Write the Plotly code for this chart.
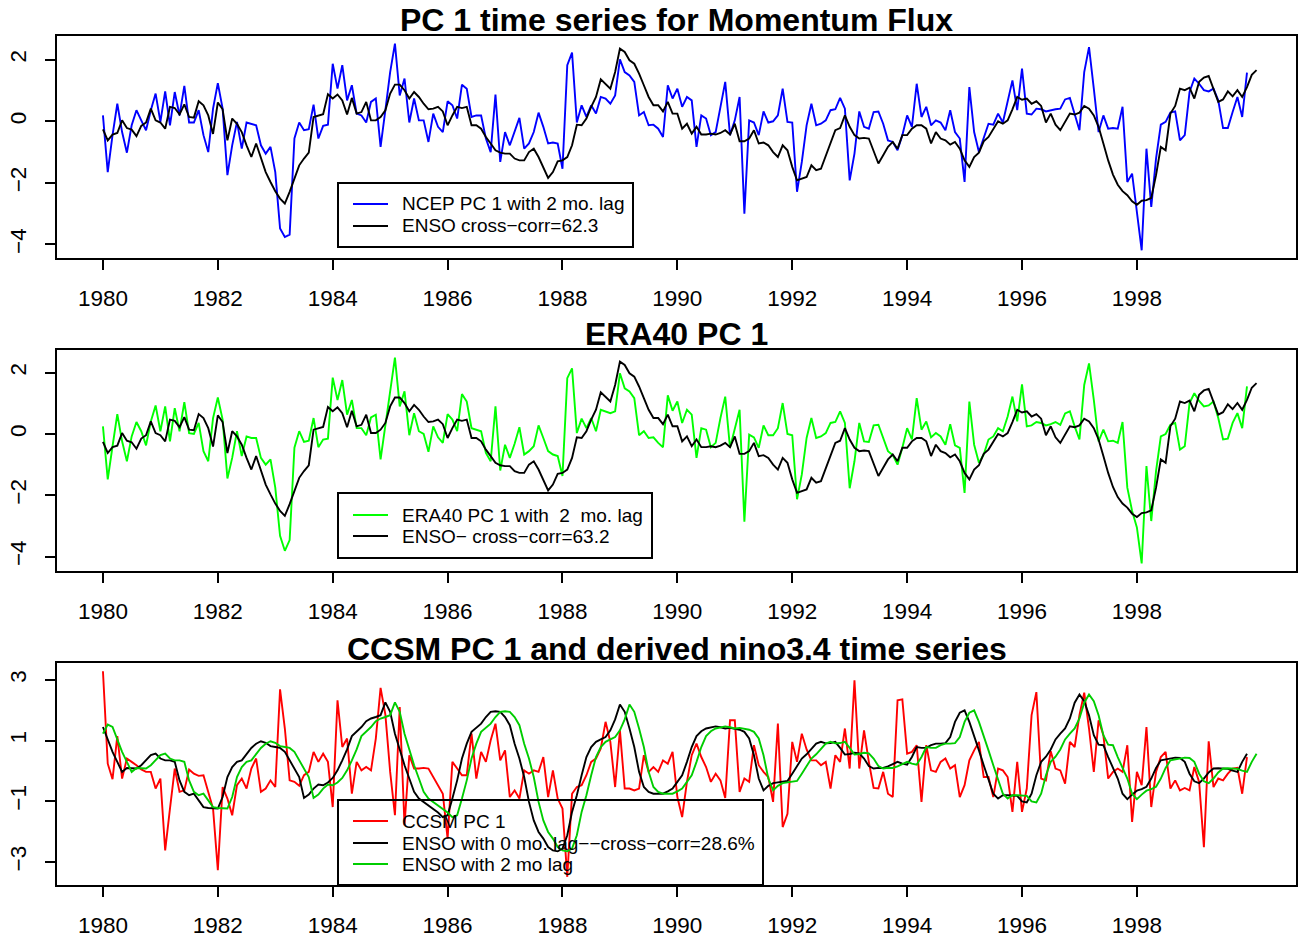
import plotly.graph_objects as go

FIG_W, FIG_H = 1298, 942
FONT = "Liberation Sans"

# Monthly series starting January 1980
ncep_pc1 = [
    0.19, -1.65, -0.45, 0.57, -0.35, -1.02, -0.13, 0.36, 0.03, -0.29,
    0.36, 0.90, -0.02, 0.97, -0.13, 0.95, 0.19, 1.15, -0.04, -0.04,
    0.36, -0.45, -1.00, 0.41, 1.24, 0.41, -1.75, -0.78, -0.02, -0.89,
    -0.04, -0.08, -0.13, -0.78, -1.05, -0.83, -1.65, -3.48, -3.76, -3.68,
    -0.56, -0.04, -0.29, -0.26, 0.54, -0.56, -0.15, -0.11, 1.87, 1.06,
    1.82, 0.68, 1.17, 0.25, 0.19, -0.04, 0.63, 0.74, -0.83, 0.36,
    1.60, 2.52, 0.84, 1.39, -0.04, 0.74, 0.03, 0.03, -0.67, 0.25,
    -0.18, -0.35, 0.65, 0.52, 0.09, 1.19, 1.06, 0.14, 0.19, 0.19,
    -0.56, -1.00, 0.87, -1.32, -0.35, -0.78, -0.35, 0.11, -0.89, -0.72,
    -0.35, 0.28, -0.18, -0.72, -0.69, -0.72, -1.54, 1.82, 2.23, -0.04,
    0.52, 0.14, 0.52, 0.25, 0.79, 0.74, 0.57, 0.84, 2.01, 1.60,
    1.49, 1.28, 0.19, 0.30, -0.13, -0.11, -0.24, -0.51, 1.17, 0.74,
    1.06, 0.47, 0.79, 0.68, -0.83, 0.19, 0.09, -0.45, -0.35, 0.41,
    1.28, -0.45, 0.03, 0.79, -3.00, 0.03, -0.04, -0.45, 0.32, -0.04,
    0.00, 0.19, 1.06, -0.02, -0.04, -2.29, -1.32, -0.13, 0.57, -0.13,
    -0.08, 0.03, 0.36, 0.39, 0.76, 0.41, -1.92, -1.05, 0.32, -0.18,
    -0.24, 0.30, 0.32, -0.08, -0.62, -0.67, -0.94, -0.45, 0.19, -0.18,
    1.22, 0.14, 0.47, -0.13, 0.03, -0.04, -0.29, 0.36, -0.35, -0.56,
    -1.97, 1.11, -0.35, -1.00, -0.56, -0.08, -0.11, 0.25, -0.04, 0.63,
    1.33, 0.36, 1.71, 0.25, 0.22, 0.41, 0.39, 0.32, 0.36, 0.39,
    0.41, 0.71, 0.76, 0.25, -0.29, 1.60, 2.41, 1.06, -0.35, 0.19,
    -0.24, -0.22, -0.24, 0.47, -1.97, -1.70, -2.94, -4.19, -0.89, -2.78,
    -1.21, -0.11, -0.02, 0.28, 0.32, -0.62, -0.45, 0.95, 1.39, 1.22,
    1.01, 0.97, 1.06, 0.68, -0.22, -0.22, 0.30, 0.79, 0.14, 1.58,
]

era40_pc1 = [
    0.25, -1.48, -0.40, 0.65, -0.24, -0.89, -0.08, 0.39, 0.09, -0.37,
    0.41, 0.93, 0.09, 0.90, -0.24, 0.84, 0.09, 1.04, 0.03, 0.00,
    0.36, -0.56, -0.89, 0.52, 1.19, 0.47, -1.45, -0.78, 0.09, -0.72,
    -0.08, -0.13, -0.13, -0.78, -1.00, -0.83, -1.75, -3.32, -3.81, -3.46,
    -0.45, 0.09, -0.26, -0.22, 0.52, -0.43, -0.18, -0.15, 1.84, 1.11,
    1.76, 0.63, 1.11, 0.19, 0.19, -0.04, 0.54, 0.63, -0.83, 0.36,
    1.39, 2.49, 0.90, 1.39, -0.04, 0.68, 0.09, 0.00, -0.58, 0.25,
    -0.11, -0.29, 0.65, 0.47, 0.09, 1.30, 1.06, 0.19, 0.14, 0.09,
    -0.62, -0.89, 0.90, -1.19, -0.35, -0.78, -0.32, 0.22, -0.67, -0.56,
    -0.40, 0.28, -0.13, -0.56, -0.67, -0.72, -1.37, 1.82, 2.14, 0.03,
    0.50, 0.19, 0.52, 0.09, 0.79, 0.74, 0.68, 0.74, 1.98, 1.49,
    1.39, 1.17, -0.04, 0.09, -0.13, -0.11, -0.29, -0.43, 1.26, 0.76,
    1.06, 0.36, 0.79, 0.63, -0.78, 0.19, 0.14, -0.43, -0.29, 0.52,
    1.22, -0.45, 0.14, 0.79, -2.86, -0.02, -0.11, -0.45, 0.28, -0.04,
    -0.04, 0.19, 1.01, 0.00, -0.04, -2.13, -1.32, -0.13, 0.52, -0.13,
    -0.08, 0.03, 0.36, 0.39, 0.74, 0.36, -1.77, -0.89, 0.36, -0.24,
    -0.26, 0.28, 0.30, -0.13, -0.56, -0.69, -1.00, -0.45, 0.19, -0.18,
    1.17, 0.14, 0.41, -0.11, 0.03, -0.08, -0.35, 0.32, -0.37, -0.45,
    -1.92, 1.06, -0.35, -0.94, -0.67, -0.18, -0.08, 0.19, 0.09, 0.57,
    1.22, 0.41, 1.62, 0.25, 0.28, 0.39, 0.36, 0.28, 0.32, 0.39,
    0.30, 0.67, 0.74, 0.25, -0.18, 1.60, 2.30, 1.11, -0.24, 0.14,
    -0.24, -0.22, -0.29, 0.39, -1.75, -2.51, -3.05, -4.22, -1.05, -2.84,
    -1.21, -0.08, 0.00, 0.30, 0.36, -0.51, -0.40, 1.01, 1.33, 1.08,
    0.90, 0.93, 1.06, 0.52, -0.18, -0.15, 0.36, 0.68, 0.19, 1.55,
]

enso_index = [
    -0.26, -0.62, -0.43, -0.38, 0.03, -0.22, -0.27, -0.48, -0.15, -0.04,
    0.41, 0.03, -0.04, -0.24, 0.47, 0.43, 0.22, 0.55, 0.14, 0.12,
    0.65, 0.52, 0.19, -0.41, 0.61, 0.39, -0.62, 0.09, -0.08, -0.35,
    -0.78, -1.16, -0.72, -1.21, -1.65, -1.97, -2.27, -2.51, -2.67, -2.29,
    -1.86, -1.43, -1.21, -1.02, 0.14, 0.19, 0.23, 0.88, 0.74, 0.87,
    0.68, 0.22, 0.76, 0.25, 0.30, 0.63, 0.03, 0.03, 0.14, 0.36,
    0.90, 1.19, 1.19, 1.01, 0.74, 0.95, 0.79, 0.57, 0.39, 0.41,
    0.47, 0.32, -0.13, 0.19, 0.47, 0.43, 0.47, -0.13, -0.13, -0.24,
    -0.51, -0.72, -0.94, -1.02, -1.05, -1.05, -1.21, -1.27, -1.27, -1.00,
    -0.89, -1.16, -1.48, -1.84, -1.65, -1.30, -1.27, -1.16, -0.78, -0.11,
    -0.13, 0.09, 0.47, 0.79, 1.36, 1.22, 1.06, 1.60, 2.36, 2.25,
    1.98, 1.87, 1.55, 1.17, 0.79, 0.52, 0.52, 0.32, 0.63, 0.25,
    0.25, -0.24, -0.08, -0.40, -0.18, -0.43, -0.43, -0.40, -0.43, -0.38,
    -0.29, -0.43, -0.08, -0.65, -0.65, -0.56, -0.29, -0.72, -0.69, -0.78,
    -1.00, -1.16, -0.78, -0.94, -1.48, -1.92, -1.86, -1.81, -1.43, -1.59,
    -1.54, -1.10, -0.72, -0.29, -0.22, 0.19, -0.18, -0.45, -0.56, -0.54,
    -0.56, -0.94, -1.37, -1.10, -0.83, -0.67, -0.89, -0.45, -0.45, -0.24,
    -0.13, -0.13, -0.24, -0.72, -0.35, -0.56, -0.62, -0.76, -0.67, -0.89,
    -1.27, -1.48, -1.16, -1.02, -0.65, -0.51, -0.24, 0.00, -0.08, 0.03,
    0.39, 0.79, 0.70, 0.74, 0.57, 0.65, 0.50, -0.04, 0.25, -0.11,
    -0.29, -0.04, 0.25, 0.22, 0.28, 0.50, 0.41, 0.19, -0.18, -0.72,
    -1.27, -1.73, -2.06, -2.27, -2.40, -2.60, -2.71, -2.58, -2.56, -2.49,
    -1.75, -0.83, -0.94, 0.25, 0.50, 1.06, 1.01, 1.09, 0.74, 1.28,
    1.42, 1.47, 1.06, 0.63, 0.71, 0.97, 0.81, 1.01, 0.79, 1.11,
    1.51, 1.66,
]

ccsm_pc1 = [
    3.29, 0.24, -0.27, 1.15, -0.25, 0.41, 0.30, 0.19, 0.05, -0.03,
    -0.03, -0.58, -0.25, -2.62, -1.24, 0.08, -0.69, -0.64, 0.05, -0.09,
    -0.16, -0.14, -0.69, -1.24, -3.27, -0.53, -0.91, -1.46, -0.47, -0.25,
    -0.58, 0.08, 0.41, -0.69, -0.58, -0.31, -0.53, 2.69, 1.40, -0.31,
    -0.36, -0.49, -0.14, -0.03, 0.63, 0.30, 0.57, 0.30, -1.19, 2.33,
    0.79, 1.07, -0.75, 0.30, 0.02, 0.13, 0.02, 1.07, 2.74, 1.86,
    -0.03, -1.46, 2.11, -1.79, 0.52, 0.08, 0.08, 0.10, 0.08, -0.20,
    -0.47, -0.75, -2.23, 0.30, 0.08, -0.14, -0.14, 1.23, -0.25, 0.63,
    0.30, 1.01, 1.56, 0.35, 0.68, -0.86, -0.64, -0.91, 0.02, -0.09,
    0.02, -0.03, 0.46, -0.86, 0.02, -0.91, -1.24, -3.49, -0.75, -0.53,
    -0.47, -0.14, 0.30, 0.41, 0.74, 1.62, 0.96, -0.53, 1.34, -0.58,
    -0.58, -0.64, -0.58, 0.52, -0.03, 0.13, -0.03, 0.35, 0.24, 0.63,
    -0.86, -1.52, -0.36, 0.52, 0.90, 0.46, 0.13, -0.36, -0.09, -0.31,
    -0.89, 1.67, 1.67, -0.69, -0.25, -0.36, 0.85, 0.19, -0.03, -0.20,
    -1.02, 1.56, -1.85, -1.41, 0.96, 0.30, 1.23, 0.71, 0.35, 0.35,
    0.19, 0.30, -0.58, 0.52, 0.30, 1.40, 0.08, 2.99, 0.08, 1.34,
    0.30, -0.56, -0.58, -0.03, -0.75, -0.86, 2.33, 2.36, 0.57, 0.63,
    0.85, -1.02, 0.85, 0.02, -0.03, 0.30, 0.41, 0.08, 0.19, -0.86,
    -0.47, 0.35, 0.68, 0.96, -0.20, -0.20, -0.86, 0.08, 0.02, -0.20,
    -1.35, 0.30, -1.35, -0.58, 1.84, 2.60, -0.25, -0.31, 0.65, 0.08,
    0.02, -0.42, 0.96, 0.79, 1.84, 2.58, 1.40, -0.03, 1.67, 1.18,
    -0.25, -0.03, 0.08, -0.03, 0.85, -1.68, -0.03, -0.47, 1.45, -1.19,
    -0.03, 0.46, 0.63, -0.58, -0.31, -0.64, -0.56, -0.64, 0.13, -0.36,
    -2.51, 0.98, -0.53, -0.25, -0.31, -0.09, 0.08, 0.10, -0.75, 0.46,
]

# Model-derived nino3.4 index; the first two entries are Nov and Dec 1979
ccsm_nino34 = [
    1.23, 1.53,
    1.45, 1.01, 0.63, 0.30, -0.03, 0.10, 0.10, 0.08, 0.19, 0.35,
    0.52, 0.57, 0.41, 0.35, 0.35, 0.30, -0.31, -0.69, -0.80, -0.75,
    -0.97, -1.19, -1.22, -1.24, -1.24, -0.86, -0.20, 0.13, 0.30, 0.35,
    0.57, 0.76, 0.90, 0.98, 0.93, 0.82, 0.79, 0.76, 0.63, 0.35,
    0.08, -0.20, -0.89, -0.78, -0.58, -0.45, -0.47, -0.38, -0.23, 0.02,
    0.35, 0.71, 1.15, 1.29, 1.45, 1.64, 1.73, 1.78, 1.84, 2.26,
    1.95, 1.23, 0.68, 0.19, -0.25, -0.69, -0.91, -1.02, -1.13, -1.24,
    -1.37, -1.52, -1.46, -0.91, -0.31, 0.41, 0.90, 1.29, 1.42, 1.56,
    1.78, 1.95, 1.97, 1.95, 1.78, 1.51, 0.90, 0.41, -0.20, -1.02,
    -1.63, -2.01, -2.23, -2.51, -2.62, -2.65, -2.56, -2.12, -1.35, -0.80,
    -0.14, 0.46, 0.79, 0.96, 1.04, 1.12, 1.34, 1.70, 2.19, 1.95,
    1.40, 0.79, -0.03, -0.53, -0.69, -0.75, -0.75, -0.75, -0.67, -0.58,
    -0.36, -0.14, 0.30, 0.79, 1.15, 1.31, 1.40, 1.44, 1.47, 1.44,
    1.40, 1.42, 1.40, 1.36, 1.29, 1.07, 0.52, -0.25, -0.64, -0.49,
    -0.40, -0.38, -0.37, -0.33, -0.09, 0.16, 0.41, 0.55, 0.71, 0.90,
    0.96, 0.91, 0.92, 0.96, 0.76, 0.54, 0.56, 0.60, 0.58, 0.41,
    0.16, 0.08, 0.10, 0.10, 0.15, 0.23, 0.30, 0.24, 0.21, 0.46,
    0.79, 0.76, 0.76, 0.85, 0.90, 0.90, 0.92, 1.12, 1.62, 1.92,
    2.00, 1.62, 1.18, 0.68, 0.19, -0.31, -0.75, -0.91, -0.80, -0.80,
    -0.80, -0.82, -1.00, -1.04, -0.75, -0.14, 0.30, 0.47, 0.71, 1.04,
    1.23, 1.40, 1.73, 2.25, 2.52, 2.30, 1.84, 1.18, 0.87, 0.85,
    0.46, 0.08, -0.25, -0.75, -0.93, -0.78, -0.65, -0.60, -0.52, -0.25,
    0.10, 0.35, 0.38, 0.41, 0.44, 0.43, 0.30, -0.09, -0.34, -0.40,
    -0.25, -0.05, 0.08, 0.09, 0.07, 0.07, 0.01, -0.03, 0.30, 0.57,
]

year_ticks = list(range(1980, 2000, 2))
panel_titles = [
    "PC 1 time series for Momentum Flux",
    "ERA40 PC 1",
    "CCSM PC 1 and derived nino3.4 time series",
]
legend_rows = [
    [("NCEP PC 1 with 2 mo. lag", "#0000ff"), ("ENSO cross\u2212corr=62.3", "#000000")],
    [("ERA40 PC 1 with  2  mo. lag", "#00ff00"), ("ENSO\u2212 cross\u2212corr=63.2", "#000000")],
    [("CCSM PC 1", "#ff0000"),
     ("ENSO with 0 mo. lag\u2212\u2212cross\u2212corr=28.6%", "#000000"),
     ("ENSO with 2 mo lag", "#00cd00")],
]


def months(n, start=1980.0):
    return [start + i / 12.0 for i in range(n)]


def px_x(x):
    return x / FIG_W


def px_y(y):
    return 1.0 - y / FIG_H


# frame geometry (pixels): left, right, and top/bottom for each panel
FRAME_L, FRAME_R = 57, 1296
frames = [(36, 258), (350, 571), (663, 885)]
y_ranges = [(-4.44, 2.77), (-4.47, 2.74), (-3.76, 3.56)]
y_ticks = [[-4, -2, 0, 2], [-4, -2, 0, 2], [-3, -1, 1, 3]]
x_range = (1979.2, 2000.77)
title_y = [20, 334, 649]
legend_boxes = [(338, 633, 183, 247), (338, 652, 493, 558), (338, 763, 800, 885)]
legend_row_y = [[204, 226], [515, 536], [821, 843, 864]]

fig = go.Figure()
LW = 1.9

# panel 1
fig.add_trace(go.Scatter(x=months(len(ncep_pc1)), y=ncep_pc1, mode="lines",
                         line=dict(color="#0000ff", width=LW), xaxis="x", yaxis="y"))
fig.add_trace(go.Scatter(x=months(len(enso_index)), y=enso_index, mode="lines",
                         line=dict(color="#000000", width=LW), xaxis="x", yaxis="y"))
# panel 2
fig.add_trace(go.Scatter(x=months(len(era40_pc1)), y=era40_pc1, mode="lines",
                         line=dict(color="#00ff00", width=LW), xaxis="x2", yaxis="y2"))
fig.add_trace(go.Scatter(x=months(len(enso_index)), y=enso_index, mode="lines",
                         line=dict(color="#000000", width=LW), xaxis="x2", yaxis="y2"))
# panel 3
nino_now = ccsm_nino34[2:]
fig.add_trace(go.Scatter(x=months(len(ccsm_pc1)), y=ccsm_pc1, mode="lines",
                         line=dict(color="#ff0000", width=LW), xaxis="x3", yaxis="y3"))
fig.add_trace(go.Scatter(x=months(len(nino_now)), y=nino_now, mode="lines",
                         line=dict(color="#000000", width=LW), xaxis="x3", yaxis="y3"))
fig.add_trace(go.Scatter(x=months(len(ccsm_nino34)), y=ccsm_nino34, mode="lines",
                         line=dict(color="#00cd00", width=LW), xaxis="x3", yaxis="y3"))

layout = dict(
    width=FIG_W, height=FIG_H,
    margin=dict(l=0, r=0, t=0, b=0),
    paper_bgcolor="white", plot_bgcolor="white",
    showlegend=False,
    font=dict(family=FONT, color="black"),
)

for i in range(3):
    sfx = "" if i == 0 else str(i + 1)
    top, bot = frames[i]
    layout["xaxis" + sfx] = dict(
        domain=[px_x(FRAME_L), px_x(FRAME_R)], range=list(x_range),
        anchor="y" + sfx, tickvals=year_ticks, ticktext=[str(v) for v in year_ticks],
        ticks="outside", ticklen=10, tickwidth=1.5, tickcolor="black",
        showline=True, linecolor="black", linewidth=2, mirror=True,
        showgrid=False, zeroline=False, tickfont=dict(size=22.5, family=FONT),
        ticklabelstandoff=9,
    )
    layout["yaxis" + sfx] = dict(
        domain=[px_y(bot), px_y(top)], range=list(y_ranges[i]),
        anchor="x" + sfx, tickvals=y_ticks[i],
        ticktext=[str(v).replace("-", "\u2212") for v in y_ticks[i]],
        ticks="outside", ticklen=10, tickwidth=1.5, tickcolor="black",
        showline=True, linecolor="black", linewidth=2, mirror=True,
        showgrid=False, zeroline=False, tickangle=-90,
        tickfont=dict(size=22.5, family=FONT), ticklabelstandoff=10,
    )

shapes = []
annotations = []
for i in range(3):
    annotations.append(dict(
        text=panel_titles[i], xref="paper", yref="paper",
        x=px_x((FRAME_L + FRAME_R) / 2), y=px_y(title_y[i]),
        xanchor="center", yanchor="middle", showarrow=False,
        font=dict(size=32, family=FONT, weight="bold", color="black"),
    ))
    l, r, t, b = legend_boxes[i]
    shapes.append(dict(type="rect", xref="paper", yref="paper",
                       x0=px_x(l), x1=px_x(r), y0=px_y(b), y1=px_y(t),
                       line=dict(color="black", width=2), fillcolor="rgba(0,0,0,0)"))
    for (label, color), ry in zip(legend_rows[i], legend_row_y[i]):
        shapes.append(dict(type="line", xref="paper", yref="paper",
                           x0=px_x(353), x1=px_x(388), y0=px_y(ry), y1=px_y(ry),
                           line=dict(color=color, width=2)))
        annotations.append(dict(
            text=label, xref="paper", yref="paper",
            x=px_x(400), y=px_y(ry), xanchor="left", yanchor="middle",
            showarrow=False, font=dict(size=19, family=FONT, color="black"),
        ))

layout["shapes"] = shapes
layout["annotations"] = annotations
fig.update_layout(**layout)

fig.write_html("out.html")
